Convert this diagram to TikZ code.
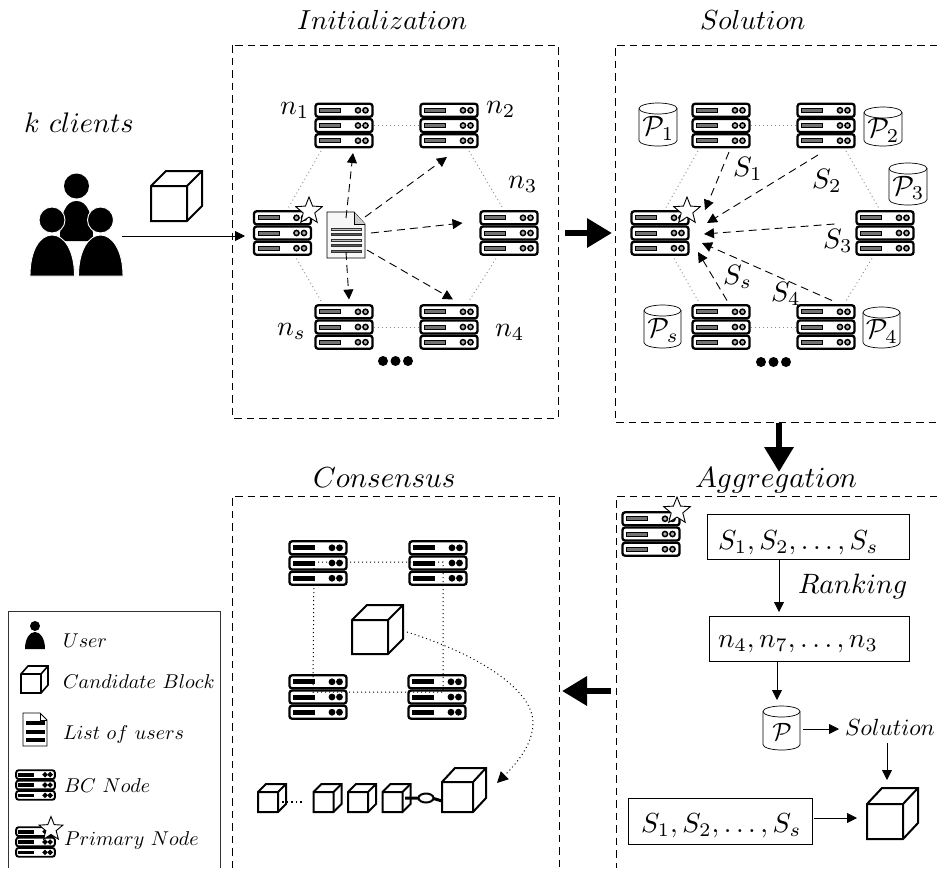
\documentclass[tikz,border=0pt]{standalone}
\usepackage{graphicx}
\usetikzlibrary{arrows.meta,shapes.geometric,calc}
\newcommand{\mt}[2]{\scalebox{#1}{$#2$}}
\definecolor{dotgray}{gray}{0.55}
\definecolor{bargray}{gray}{0.45}
\definecolor{dotfill}{gray}{0.7}
\tikzset{
  panel/.style={line width=0.9pt,dash pattern=on 7.5pt off 5pt},
  lab/.style={anchor=base west,inner sep=0pt,outer sep=0pt},
  srvbox/.style={inner sep=0pt,outer sep=0pt,minimum width=59pt,minimum height=45pt},
  srvrow/.style={rounded corners=2.5pt,fill=white,draw=black},
  startag/.style={star,star points=5,star point ratio=2.3,draw=black,fill=white,line width=0.9pt,inner sep=0pt,minimum size=28pt},
  cylbox/.style={inner sep=0pt,outer sep=0pt},
  cylline/.style={draw=black,fill=white,line width=0.7pt},
  cyltext/.style={inner sep=0pt,outer sep=0pt},
  tbox/.style={draw=black,line width=0.8pt,inner sep=0pt,outer sep=0pt},
  hexdot/.style={dotgray,line width=0.9pt,dash pattern=on 1pt off 3pt},
  blackdot/.style={black,line width=1pt,dash pattern=on 1pt off 3pt},
  dasharrow/.style={line width=0.9pt,dash pattern=on 8pt off 5pt,-{Triangle[length=10pt,width=10pt]}},
  thinarrow/.style={line width=0.8pt,-{Triangle[length=10pt,width=10pt]}},
  fatarrow/.style={line width=6.5pt,-{Triangle[length=25pt,width=28pt]}},
  cubeline/.style={line width=2pt,draw=black,fill=white,line join=miter},
}
% name, x, y, scale, row line width, dot fill, bar fill
\newcommand{\srv}[7]{%
  \node[srvbox,minimum width=#4*59pt,minimum height=#4*45pt] (#1) at (#2,#3) {};
  \begin{scope}[shift={(#2,#3)},scale=#4]
    \foreach \yy in {-15.2,0,15.2}{%
      \draw[srvrow,line width=#5] (-28.5,\yy-6.5) rectangle (28.5,\yy+6.5);
      \draw[black,fill=#7,line width=0.9pt] (-24.5,\yy-2) rectangle (-3.5,\yy+2);
      \draw[black,fill=#6,line width=1.5pt] (14,\yy) circle (2.6);
      \draw[black,fill=#6,line width=1.5pt] (21.5,\yy) circle (2.6);
    }
  \end{scope}}
% name, front x0, y0, x1, y1, back x, back y
\newcommand{\cubeat}[8][2pt]{%
  \node[inner sep=0pt,outer sep=0pt,minimum width=#4pt-#2pt,minimum height=#5pt-#3pt] (#8) at ({(#2+#4)/2},{(#3+#5)/2}) {};
  \draw[cubeline,line width=#1] (#2,#3) -- (#2+#6-#4,#7) -- (#6,#7) -- (#6,#5+#7-#3) -- (#4,#5) -- (#2,#5) -- cycle;
  \draw[line width=#1] (#2,#3) -- (#4,#3) -- (#4,#5) (#4,#3) -- (#6,#7);}
% name, left, right, top, bottom, text scale, text
\newcommand{\cylat}[7]{%
  \node[cylbox,minimum width=#3pt-#2pt,minimum height=#5pt-#4pt] (#1) at ({(#2+#3)/2},{(#4+#5)/2}) {};
  \draw[cylline] (#2,#4+5.5) -- (#2,#5-5.5) arc (180:0:{(#3-#2)/2} and 5.5) -- (#3,#4+5.5);
  \draw[cylline] ({(#2+#3)/2},#4+5.5) ellipse ({(#3-#2)/2} and 5.5);
  \node[cyltext] at ({(#2+#3)/2+0.5},{(#4+#5)/2+4}) {\mt{#6}{#7}};}
\begin{document}
\begin{tikzpicture}[x=1pt,y=-1pt]
\useasboundingbox (0,0) rectangle (937,868);
\fill[white] (0,0) rectangle (937,868);

% panels
\draw[panel] (232,45) rectangle (558,418);
\draw[panel] (937,45) -- (615,45) -- (615,422) -- (937,422);
\draw[panel] (937,496) -- (616,496) -- (616,868);
\draw[panel] (232,868) -- (232,496) -- (559,496) -- (559,868);
\draw[black!80,line width=0.9pt] (8,868) -- (8,611) -- (220,611) -- (220,868);

% titles
\node[lab] (t1) at (297,29) {\mt{2.75}{Initialization}};
\node[lab] (t2) at (700,29) {\mt{2.75}{Solution}};
\node[lab] (t3) at (313,487) {\mt{2.9}{Consensus}};
\node[lab] (t4) at (695,487) {\mt{2.92}{Aggregation}};
\node[lab] (t5) at (24,132) {\mt{2.83}{k\ clients}};

% clients
\fill (76.5,186) circle (12.5);
\fill (60,241) .. controls (60,213) and (66,201) .. (76.5,201) .. controls (87,201) and (93,213) .. (93,241) -- cycle;
\draw[white,fill=black,line width=0.9pt] (52,220) circle (13);
\draw[white,fill=black,line width=0.9pt] (100.5,220) circle (13);
\draw[white,fill=black,line width=0.9pt] (30,276) .. controls (30,250) and (40,235) .. (52,235) .. controls (64,235) and (74.5,250) .. (74.5,276) -- cycle;
\draw[white,fill=black,line width=0.9pt] (78.5,276) .. controls (78.5,250) and (89,235) .. (100.5,235) .. controls (112,235) and (123,250) .. (123,276) -- cycle;
\coordinate (clients) at (122,236);
\cubeat{151}{186}{187}{221}{202}{171}{topblock}

% Initialization servers
\srv{in1}{344}{125.5}{1}{2.3pt}{dotfill}{bargray}
\srv{in2}{449}{125.5}{1}{2.3pt}{dotfill}{bargray}
\srv{in3}{509}{233}{1}{2.3pt}{dotfill}{bargray}
\srv{in0}{282.5}{233}{1}{2.3pt}{dotfill}{bargray}
\srv{ins}{344}{327}{1}{2.3pt}{dotfill}{bargray}
\srv{in4}{449}{327}{1}{2.3pt}{dotfill}{bargray}
\node[startag] (istar) at (309,211) {};
\draw[thinarrow] (clients) -- (clients -| 245,0);

\draw[hexdot] (in1.east) -- (in2.west);
\draw[hexdot] (ins.east) -- (in4.west);
\draw[hexdot] ([shift={(-23,3)}]in1.south) -- ([shift={(6,-3)}]in0.north);
\draw[hexdot] ([shift={(20,3)}]in2.south) -- ([shift={(-6,-2)}]in3.north);
\draw[hexdot] ([shift={(14,3)}]in0.south) -- ([shift={(-22,-2)}]ins.north);
\draw[hexdot] ([shift={(-13,3)}]in3.south) -- ([shift={(19,-2)}]in4.north);

% document
\node[inner sep=0pt,outer sep=0pt,minimum width=38pt,minimum height=46pt] (doc) at (346,235) {};
\draw[black,fill=black!3,line width=0.8pt] (327,212) -- (354,212) -- (365,224) -- (365,258) -- (327,258) -- cycle;
\draw[black,fill=black!20,line width=0.6pt] (354,212) -- (354,224) -- (365,224);
\foreach \yy/\cc in {229/black!25,234/black!65,240/black!25,245/black!65,251/black!55}{%
  \draw[black!80,fill=\cc,line width=0.5pt] (331,\yy-1.2) rectangle (361,\yy+1.2);}

\draw[dasharrow] ([yshift=-6pt]doc.north) -- ([shift={(9,5)}]in1.south);
\draw[dasharrow] ([shift={(0,5)}]doc.north east) -- ([shift={(-2,9)}]in2.south);
\draw[dasharrow] ([shift={(6,-2)}]doc.east) -- ([shift={(-17,-10)}]in3.west);
\draw[dasharrow] ([shift={(2,15)}]doc.east) -- ([shift={(4,-5)}]in4.north);
\draw[dasharrow] ([yshift=6pt]doc.south) -- ([shift={(5,-5)}]ins.north);

\foreach \xx in {383,395.5,408}{\fill (\xx,361) circle (5);}

\node[lab] (ln1) at (280,114) {\mt{2.8}{n_1}};
\node[lab] (ln2) at (486,113) {\mt{2.8}{n_2}};
\node[lab] (ln3) at (508,188) {\mt{2.8}{n_3}};
\node[lab] (lns) at (277,335) {\mt{2.8}{n_s}};
\node[lab] (ln4) at (495,336) {\mt{2.8}{n_4}};

% big arrows
\draw[fatarrow] (565,233) -- (612,233);
\draw[fatarrow] (779,423) -- (779,472);
\draw[fatarrow] (611,691) -- (562,691);

% Solution servers
\srv{sn1}{721}{125.5}{1}{2.3pt}{dotfill}{bargray}
\srv{sn2}{826}{125.5}{1}{2.3pt}{dotfill}{bargray}
\srv{sn3}{885}{233}{1}{2.3pt}{dotfill}{bargray}
\srv{sn0}{660}{233}{1}{2.3pt}{dotfill}{bargray}
\srv{sns}{721}{327}{1}{2.3pt}{dotfill}{bargray}
\srv{sn4}{826}{327}{1}{2.3pt}{dotfill}{bargray}
\node[startag] (sstar) at (687,211) {};

\draw[hexdot] (sn1.east) -- (sn2.west);
\draw[hexdot] (sns.east) -- (sn4.west);
\draw[hexdot] ([shift={(-23,3)}]sn1.south) -- ([shift={(6,-3)}]sn0.north);
\draw[hexdot] ([shift={(20,3)}]sn2.south) -- ([shift={(-6,-2)}]sn3.north);
\draw[hexdot] ([shift={(14,3)}]sn0.south) -- ([shift={(-22,-2)}]sns.north);
\draw[hexdot] ([shift={(-13,3)}]sn3.south) -- ([shift={(19,-2)}]sn4.north);

\draw[dasharrow] ([shift={(8,4)}]sn1.south) -- ([shift={(15.5,-0.5)}]sn0.north east);
\draw[dasharrow] ([shift={(-8,7)}]sn2.south) -- ([shift={(17.5,12.5)}]sn0.north east);
\draw[dasharrow] ([shift={(-21,-9)}]sn3.west) -- ([shift={(14.5,1)}]sn0.east);
\draw[dasharrow] ([shift={(6,-4)}]sn4.north) -- ([shift={(12.5,10)}]sn0.east);
\draw[dasharrow] ([shift={(6,-4)}]sns.north) -- ([shift={(8.5,19)}]sn0.east);

\foreach \xx in {761,773.5,786}{\fill (\xx,362) circle (5);}

\node[lab] (s1) at (733,176) {\mt{2.8}{S_1}};
\node[lab] (s2) at (812,188) {\mt{2.8}{S_2}};
\node[lab] (s3) at (823,248) {\mt{2.8}{S_3}};
\node[lab] (ss) at (723,284) {\mt{2.8}{S_s}};
\node[lab] (s4) at (771,301) {\mt{2.8}{S_4}};

\cylat{p1}{639}{677}{103}{146}{2.8}{\mathcal{P}_1}
\cylat{p2}{864}{902}{107}{146}{2.8}{\mathcal{P}_2}
\cylat{p3}{889}{927}{163}{205}{2.8}{\mathcal{P}_3}
\cylat{ps}{644}{681}{305}{348}{2.8}{\mathcal{P}_s}
\cylat{p4}{863}{900}{307}{348}{2.8}{\mathcal{P}_4}

% Aggregation
\srv{asrv}{651}{534}{1}{2.3pt}{dotfill}{bargray}
\node[startag] (astar) at (677,511) {};
\node[tbox,minimum width=202pt,minimum height=45pt] (b1) at (808,536.5) {};
\node[lab] at (718,549) {\mt{2.75}{S_1,S_2,\ldots,S_s}};
\node[tbox,minimum width=200pt,minimum height=45pt] (b2) at (809,638.5) {};
\node[lab] at (718,647) {\mt{2.75}{n_4,n_7,\ldots,n_3}};
\node[tbox,minimum width=184pt,minimum height=46pt] (b3) at (720,821) {};
\node[lab] at (641,832) {\mt{2.75}{S_1,S_2,\ldots,S_s}};
\node[lab] (rank) at (798,593) {\mt{2.8}{Ranking}};
\cylat{pa}{763}{800}{706}{750}{2.5}{\mathcal{P}}
\node[lab] (sol) at (845,735) {\mt{2.34}{Solution}};
\coordinate (solb) at (887,743);
\coordinate (pout) at (803,729);
\cubeat{867}{804}{903}{839}{918}{788}{ablock}
\draw[thinarrow] ([xshift=-29pt]b1.south) -- ([shift={(-30,-4)}]b2.north);
\draw[thinarrow] ([shift={(-32,1)}]b2.south) -- ([shift={(-4.5,-6)}]pa.north);
\draw[thinarrow] (pout) -- (839,729);
\draw[thinarrow] (solb) -- (solb |- 0,780);
\draw[thinarrow] ([shift={(2,-3)}]b3.east) -- ([shift={(-10,-3.5)}]ablock.west);

% Consensus
\srv{c1}{318}{563}{1}{2.3pt}{black}{black}
\srv{c2}{438}{563}{1}{2.3pt}{black}{black}
\srv{c3}{318}{697}{1}{2.3pt}{black}{black}
\srv{c4}{437}{697}{1}{2.3pt}{black}{black}
\draw[blackdot] ([shift={(-4,-1)}]c1.center) -- ([shift={(5,-1)}]c2.center) -- ([shift={(6,-5)}]c4.center) -- ([shift={(-5,-5)}]c3.center) -- cycle;
\cubeat{352}{620}{388}{654}{403}{605}{cblock}
\cubeat{258}{792}{278}{812}{286}{784}{k1}
\cubeat{313.5}{792}{333.5}{812}{341.5}{784}{k2}
\cubeat{348}{792}{368}{812}{376}{784}{k3}
\cubeat{382.5}{792}{402.5}{812}{410.5}{784}{k4}
\cubeat{442}{782}{473}{812}{486}{768}{k5}
\draw[black,line width=1.1pt,dash pattern=on 1.5pt off 3pt] ([xshift=4pt]k1.east) -- ([xshift=-11pt]k2.west);
\draw[line width=3pt] (405,798) -- (420,798) (432,798) -- ([yshift=-4pt]k5.west);
\node[ellipse,draw=black,line width=2pt,fill=white,inner sep=0pt,minimum width=15pt,minimum height=9pt] (link) at (426,798) {};
\coordinate (cout) at (407,632);
\coordinate (cmid) at (533,723);
\draw[blackdot,-{Triangle[length=11pt,width=11pt]}] (cout) .. controls (480,655) and (533,690) .. (cmid) .. controls (533,745) and (515,765) .. (497,783);

% Legend
\fill (35,626) circle (5);
\fill (25,649) .. controls (25,638) and (30,632) .. (35,632) .. controls (40,632) and (45,638) .. (45,649) -- cycle;
\node[lab] (l1) at (63,647) {\mt{2}{User}};
\cubeat[1.6pt]{21}{674}{41}{693}{48}{666}{lcube}
\node[lab] (l2) at (63,688) {\mt{2}{Candidate\ Block}};
\draw[black,fill=white,line width=0.8pt] (23,713) -- (40,713) -- (47,720) -- (47,746) -- (23,746) -- cycle;
\draw[line width=0.5pt] (40,713) -- (40,720) -- (47,720);
\foreach \yy in {723,732,740}{\fill (26,\yy-2) rectangle (45,\yy+2);}
\node[lab] (l3) at (63,739) {\mt{2}{List\ of\ users}};
\srv{lb}{35.5}{785}{0.68}{1.9pt}{black}{black}
\node[lab] (l4) at (64,792) {\mt{2}{BC\ Node}};
\srv{lp}{35.5}{842}{0.68}{1.9pt}{black}{black}
\node[startag,minimum size=25pt] (lstar) at (51,829) {};
\node[lab] (l5) at (64,845) {\mt{2}{Primary\ Node}};
\end{tikzpicture}
\end{document}
